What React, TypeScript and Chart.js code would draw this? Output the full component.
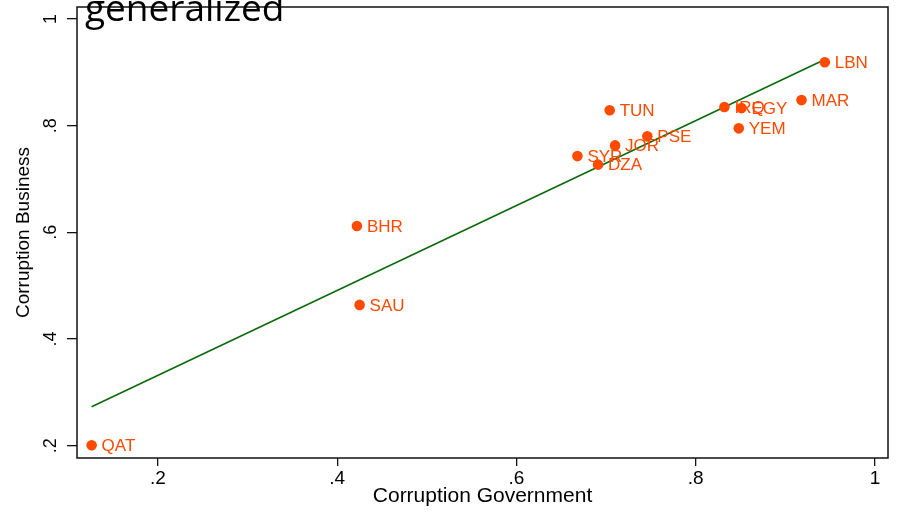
import React, { useEffect, useRef } from "react";
import { Chart, registerables } from "chart.js";

Chart.register(...registerables);

const countries = ["LBN", "MAR", "IRQ", "EGY", "YEM", "TUN", "PSE", "JOR", "SYR", "DZA", "BHR", "SAU", "QAT"];
const corruptionGovernment = [0.944, 0.918, 0.832, 0.851, 0.848, 0.704, 0.746, 0.71, 0.668, 0.691, 0.422, 0.425, 0.126];
const corruptionBusiness = [0.919, 0.848, 0.835, 0.833, 0.795, 0.829, 0.78, 0.763, 0.743, 0.727, 0.612, 0.464, 0.201];
const fitX = [0.126, 0.944];
const fitY = [0.273, 0.924];
const xTicks = [0.2, 0.4, 0.6, 0.8, 1];
const xTickLabels = [".2", ".4", ".6", ".8", "1"];
const yTicks = [0.2, 0.4, 0.6, 0.8, 1];
const yTickLabels = [".2", ".4", ".6", ".8", "1"];
const xTitle = "Corruption Government";
const yTitle = "Corruption Business";
const slideTitle = "generalized";

const FONT = "'Liberation Sans', Arial, Helvetica, sans-serif";
const ORANGE = "#ff4a00";
const GREEN = "#0a6a0a";

const labelFor = (vals: number[], labels: string[], v: number) => {
  const i = vals.findIndex((t) => Math.abs(t - v) < 1e-9);
  return i >= 0 ? labels[i] : "";
};

export default function App() {
  const ref = useRef<HTMLCanvasElement | null>(null);

  useEffect(() => {
    if (!ref.current) return;

    const framePlugin = {
      id: "frame",
      beforeDatasetsDraw(chart: any) {
        const { ctx, chartArea } = chart;
        ctx.save();
        ctx.strokeStyle = "#111";
        ctx.lineWidth = 1.5;
        ctx.strokeRect(chartArea.left, chartArea.top, chartArea.right - chartArea.left, chartArea.bottom - chartArea.top);
        ctx.restore();
      },
      afterDatasetsDraw(chart: any) {
        const { ctx } = chart;
        const meta = chart.getDatasetMeta(1);
        ctx.save();
        ctx.fillStyle = ORANGE;
        ctx.font = `17px ${FONT}`;
        ctx.textBaseline = "middle";
        ctx.textAlign = "left";
        meta.data.forEach((pt: any, i: number) => {
          ctx.fillText(countries[i], pt.x + 10, pt.y + 1);
        });
        ctx.restore();
      },
      afterDraw(chart: any) {
        const { ctx } = chart;
        ctx.save();
        ctx.fillStyle = "#000";
        ctx.font = "37px 'Open Sans', 'Noto Sans', sans-serif";
        ctx.textBaseline = "alphabetic";
        ctx.textAlign = "left";
        ctx.fillText(slideTitle, 85, 21);
        ctx.restore();
      },
    };

    const chart = new Chart(ref.current, {
      type: "scatter",
      data: {
        datasets: [
          {
            type: "line",
            data: fitX.map((x, i) => ({ x, y: fitY[i] })),
            borderColor: GREEN,
            borderWidth: 1.6,
            pointRadius: 0,
            fill: false,
            order: 2,
          } as any,
          {
            type: "scatter",
            data: corruptionGovernment.map((x, i) => ({ x, y: corruptionBusiness[i] })),
            backgroundColor: ORANGE,
            borderColor: ORANGE,
            pointRadius: 5.3,
            pointBorderWidth: 0,
            order: 1,
          },
        ],
      },
      options: {
        responsive: false,
        animation: false,
        layout: { padding: { left: 0, top: 7, right: 10, bottom: 0 } },
        plugins: { legend: { display: false }, tooltip: { enabled: false } },
        scales: {
          x: {
            type: "linear",
            min: 0.1097,
            max: 1.0145,
            afterBuildTicks: (s: any) => {
              s.ticks = xTicks.map((v) => ({ value: v }));
            },
            afterFit: (s: any) => {
              s.height = 54;
              s.paddingLeft = 0;
              s.paddingRight = 0;
            },
            border: { display: false },
            grid: { display: true, drawOnChartArea: false, drawTicks: true, tickLength: 8, color: "#111", lineWidth: 1.3 },
            ticks: {
              color: "#000",
              font: { family: FONT, size: 19 },
              padding: 1,
              maxRotation: 0,
              minRotation: 0,
              callback: (v: any) => labelFor(xTicks, xTickLabels, Number(v)),
            },
            title: {
              display: true,
              text: xTitle,
              color: "#000",
              font: { family: FONT, size: 21 },
              padding: { top: 0, bottom: 3 },
            },
          },
          y: {
            type: "linear",
            min: 0.177,
            max: 1.0225,
            afterBuildTicks: (s: any) => {
              s.ticks = yTicks.map((v) => ({ value: v }));
            },
            afterFit: (s: any) => {
              s.width = 77;
              s.paddingTop = 0;
              s.paddingBottom = 0;
            },
            border: { display: false },
            grid: { display: true, drawOnChartArea: false, drawTicks: true, tickLength: 10, color: "#111", lineWidth: 1.3 },
            ticks: {
              color: "#000",
              font: { family: FONT, size: 18 },
              padding: 8,
              minRotation: 90,
              maxRotation: 90,
              crossAlign: "center",
              callback: (v: any) => labelFor(yTicks, yTickLabels, Number(v)),
            },
            title: {
              display: true,
              text: yTitle,
              color: "#000",
              font: { family: FONT, size: 19 },
              padding: { top: 12, bottom: 0 },
            },
          },
        },
      },
      plugins: [framePlugin],
    });

    return () => chart.destroy();
  }, []);

  return (
    <div style={{ position: "fixed", left: 0, top: 0, width: 898, height: 512, background: "#fff" }}>
      <canvas ref={ref} width={898} height={512} />
    </div>
  );
}
